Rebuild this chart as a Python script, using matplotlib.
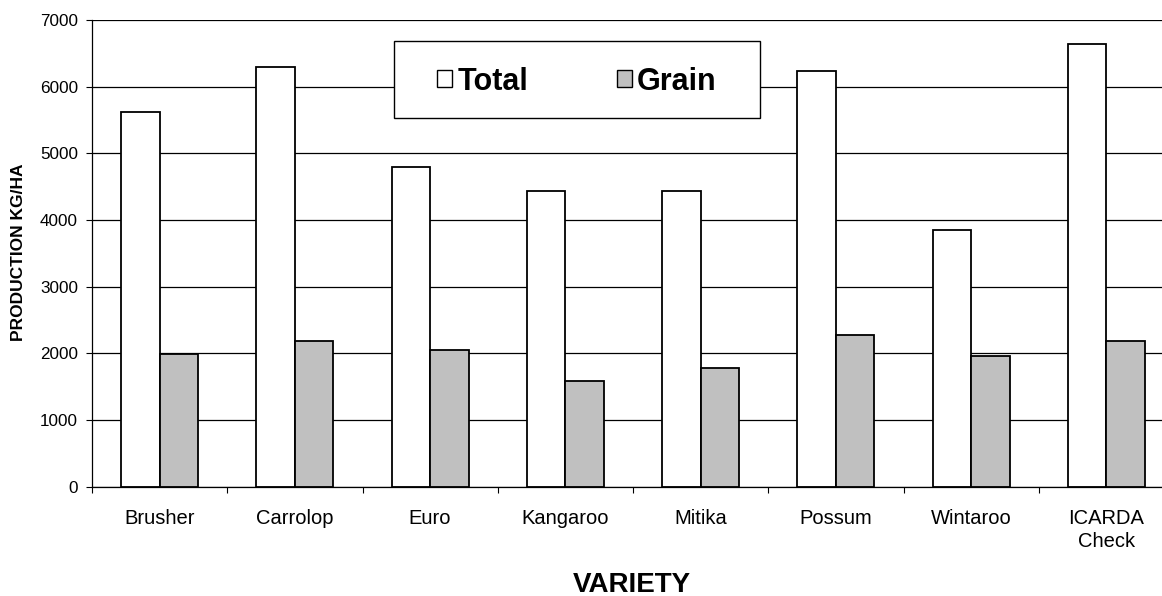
import matplotlib
matplotlib.use('Agg')
import matplotlib.pyplot as plt
from matplotlib.patches import Patch, Rectangle
import numpy as np

varieties = ['Brusher', 'Carrolop', 'Euro', 'Kangaroo', 'Mitika', 'Possum',
             'Wintaroo', 'ICARDA\nCheck']
total = [5625, 6290, 4790, 4440, 4440, 6235, 3850, 6635]
grain = [1990, 2190, 2055, 1590, 1780, 2270, 1955, 2190]
yticks = [0, 1000, 2000, 3000, 4000, 5000, 6000, 7000]

plt.rcParams['font.family'] = ['Liberation Sans', 'DejaVu Sans']

W, H = 1162, 596
fig = plt.figure(figsize=(W / 100, H / 100), dpi=100)
# axes right edge runs past the figure, as in the original
ax = fig.add_axes([92 / W, (H - 486.7) / H, 1082 / W, 466.7 / H])

x = np.arange(len(varieties))
bw = 0.284
ax.bar(x - bw / 2, total, bw, color='white', edgecolor='black', linewidth=1.3, zorder=3)
ax.bar(x + bw / 2, grain, bw, color='#c0c0c0', edgecolor='black', linewidth=1.3, zorder=3)

ax.set_xlim(-0.5, len(varieties) - 0.5)
ax.set_ylim(0, 7000)
ax.set_yticks(yticks)
ax.tick_params(axis='y', labelsize=12.3, length=4.5, width=0.8, direction='out', pad=5.5)
ax.set_xticks(x)
ax.set_xticklabels(varieties, fontsize=14.5, linespacing=1.25)
ax.set_xticks(np.arange(len(varieties) + 1) - 0.5, minor=True)
ax.tick_params(axis='x', which='major', length=0, pad=16)
ax.tick_params(axis='x', which='minor', length=4.5, width=0.8, direction='out')

ax.yaxis.grid(True, color='black', linewidth=0.9, zorder=1)
ax.set_axisbelow(True)
for side in ['top', 'right']:
    ax.spines[side].set_visible(False)
for side in ['left', 'bottom']:
    ax.spines[side].set_linewidth(0.9)
    ax.spines[side].set_zorder(4)

# legend box (white, hides the gridline behind it)
ax.add_patch(Rectangle((0.279, 0.789), 0.338, 0.167, transform=ax.transAxes,
                       facecolor='white', edgecolor='black', linewidth=1.0, zorder=5))
handles = [Patch(facecolor='white', edgecolor='black', linewidth=1.0),
           Patch(facecolor='#c0c0c0', edgecolor='black', linewidth=1.0)]
leg = ax.legend(handles, ['Total', 'Grain'], ncol=2, loc='center',
                bbox_to_anchor=(0.448, 0.868), frameon=False,
                prop={'weight': 'bold', 'size': 22},
                handlelength=0.5, handleheight=0.5, handletextpad=0.17,
                columnspacing=2.9, borderpad=0)
leg.set_zorder(6)

fig.text(19 / W, 1 - 252 / H, 'PRODUCTION KG/HA', rotation=90, ha='center',
         va='center', fontsize=12.5, fontweight='bold')
fig.text(632 / W, 1 - 585 / H, 'VARIETY', ha='center', va='center',
         fontsize=20, fontweight='bold')

fig.savefig('out.png', dpi=100)
